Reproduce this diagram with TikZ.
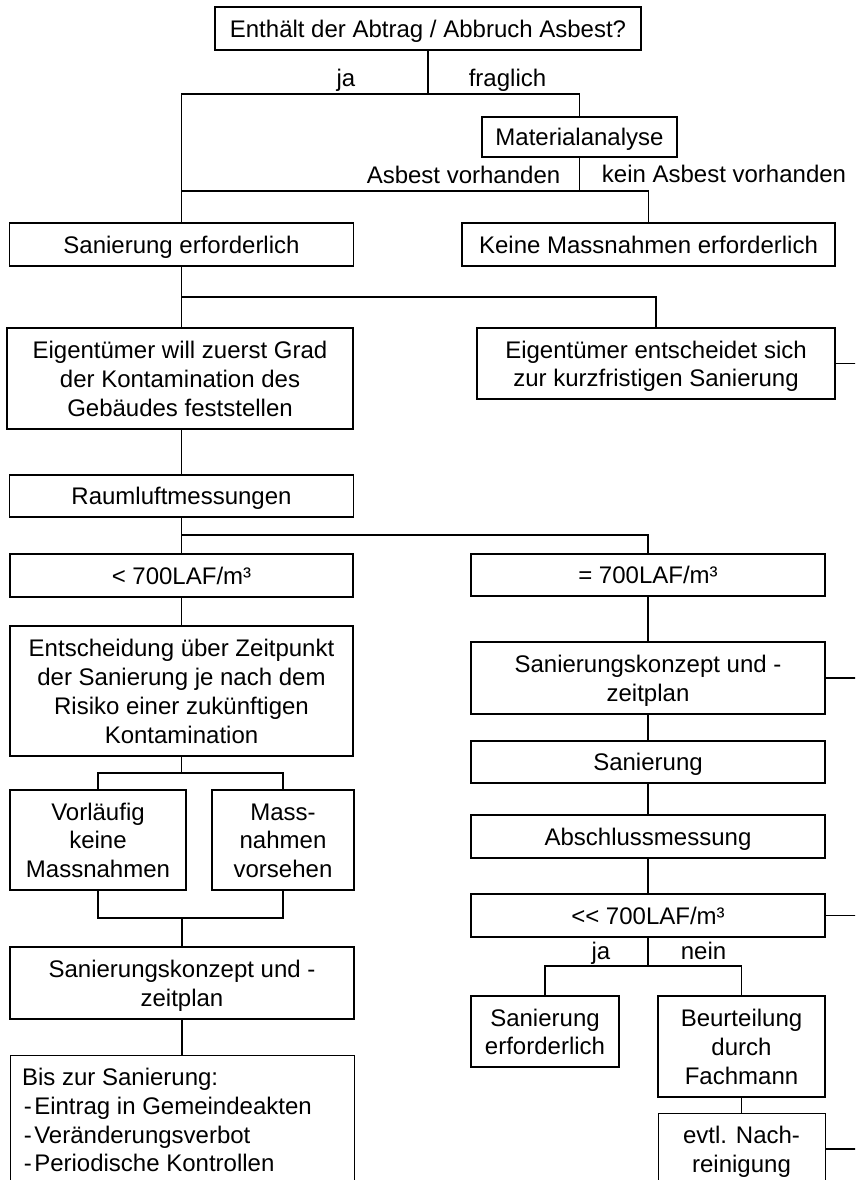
\documentclass[tikz,border=0pt]{standalone}
\usepackage{fontspec}
\setmainfont{Liberation Sans}
% line strut: every text line gets the same height and depth
\newcommand\ls{\rule[-5.4pt]{0pt}{28.7pt}}
\begin{document}
\begin{tikzpicture}[x=1pt,y=-1pt,line width=1.2pt,
  every node/.style={font=\fontsize{24}{28.7}\selectfont, inner sep=0pt},
  box/.style={draw, rectangle, align=center},
  lbl/.style={anchor=base}]
\useasboundingbox (0,0) rectangle (855,1180);
\clip (0,0) rectangle (855,1180);
\fill[white] (0,0) rectangle (855,1180);
\coordinate (edge) at (862,0);

% ---------- upper part ----------
\node[box, minimum width=426pt, minimum height=43pt] (q) at (428,28.5) {\ls Enthält der Abtrag / Abbruch Asbest?};
\node[box, minimum width=195pt, minimum height=40pt] (mat) at (579.5,137) {\ls Materialanalyse};
\node[box, minimum width=344pt, minimum height=43pt] (san1) at (181.5,244.5) {\ls Sanierung erforderlich};
\node[box, minimum width=373pt, minimum height=43pt] (keine) at (648.5,244.5) {\ls Keine Massnahmen erforderlich};
\node[box, minimum width=346pt, minimum height=101pt] (eig1) at (180,378.5) {\ls Eigentümer will zuerst Grad\\\ls der Kontamination des\\\ls Gebäudes feststellen};
\node[box, minimum width=358pt, minimum height=71pt] (eig2) at (656,363.5) {\ls Eigentümer entscheidet sich\\\ls zur kurzfristigen Sanierung};
\node[box, minimum width=344pt, minimum height=42pt] (raum) at (181.5,496) {\ls Raumluftmessungen};

\node[lbl] (lja) at (346,87) {ja};
\node[lbl] (lfrag) at (507.5,87) {fraglich};
\node[lbl] (lav) at (463.5,183) {Asbest vorhanden};
\node[lbl] (lkav) at (724,182) {kein Asbest vorhanden};

% ---------- left column ----------
\node[box, minimum width=343pt, minimum height=43pt] (lt) at (181.5,575.5) {\ls < 700LAF/m³};
\node[box, minimum width=343pt, minimum height=130pt] (ent) at (181.5,691) {\ls Entscheidung über Zeitpunkt\\\ls der Sanierung je nach dem\\\ls Risiko einer zukünftigen\\\ls Kontamination};
\node[box, minimum width=176pt, minimum height=100pt] (vorl) at (98,840) {\ls Vorläufig\\\ls keine\\\ls Massnahmen};
\node[box, minimum width=142pt, minimum height=100pt] (mass) at (283,840) {\ls Mass-\\\ls nahmen\\\ls vorsehen};
\node[box, minimum width=344pt, minimum height=72pt] (konL) at (182,983) {\ls Sanierungskonzept und -\\\ls zeitplan};
\node[draw, rectangle, anchor=north west, minimum width=344pt, minimum height=200pt] (bisbox) at (10,1055) {};
\node[anchor=north west, align=left] (bistext) at (21.5,1061.7) {\ls Bis zur Sanierung:\\\ls\hspace{1.7pt}-\hspace{2.5pt}Eintrag in Gemeindeakten\\\ls\hspace{1.7pt}-\hspace{2.5pt}Veränderungsverbot\\\ls\hspace{1.7pt}-\hspace{2.5pt}Periodische Kontrollen};

% ---------- right column ----------
\node[box, minimum width=354pt, minimum height=42pt] (eq) at (648,575) {\ls = 700LAF/m³};
\node[box, minimum width=354pt, minimum height=72pt] (konR) at (648,678) {\ls Sanierungskonzept und -\\\ls zeitplan};
\node[box, minimum width=354pt, minimum height=42pt] (sanR) at (648,762) {\ls Sanierung};
\node[box, minimum width=354pt, minimum height=43pt] (absch) at (648,836.5) {\ls Abschlussmessung};
\node[box, minimum width=354pt, minimum height=43pt] (ll) at (648,915.5) {\ls <\kern0pt< 700LAF/m³};
\node[box, minimum width=148pt, minimum height=71pt] (san2) at (545,1031.5) {\ls Sanierung\\\ls erforderlich};
\node[box, minimum width=167pt, minimum height=101pt] (beur) at (741.5,1046.5) {\ls Beurteilung\\\ls durch\\\ls Fachmann};
\node[draw, rectangle, anchor=north west, minimum width=167pt, minimum height=150pt] (evtlbox) at (658,1113) {};
\node[anchor=north, align=center] (evtltext) at (741.5,1119.7) {\ls evtl. Nach-\\\ls reinigung};

\node[lbl] (lja2) at (601,959) {ja};
\node[lbl] (lnein) at (703.5,959) {nein};

% ---------- connectors ----------
\coordinate (r1) at (428,94);
\draw (q.south) -- (r1);
\draw (san1.north) |- (r1) -| (mat.north);
\coordinate (r2) at (579.5,191);
\draw (mat.south) -- (r2);
\draw (r2) -| (keine.north);
\draw (r2) -- (san1.north |- r2);

\coordinate (r3) at (181.5,297);
\draw (san1.south) -- (san1.south |- eig1.north);
\draw (r3) -| (eig2.north);
\draw (raum.north |- eig1.south) -- (raum.north);

\coordinate (r4) at (181.5,535);
\draw (raum.south) -- (lt.north);
\draw (r4) -| (eq.north);
\draw (lt.south) -- (ent.north);

\coordinate (r6) at (181.5,773);
\draw (ent.south) -- (r6);
\draw (vorl.north) |- (r6) -| (mass.north);
\coordinate (r7) at (182,918);
\draw (vorl.south) |- (r7) -| (mass.south);
\draw (r7) -- (konL.north);
\draw (konL.south) -- (konL.south |- bisbox.north);

\draw (eq.south) -- (konR.north);
\draw (konR.south) -- (sanR.north);
\draw (sanR.south) -- (absch.north);
\draw (absch.south) -- (ll.north);
\coordinate (r5) at (648,966);
\draw (ll.south) -- (r5);
\draw (san2.north) |- (r5) -| (beur.north);
\draw (beur.south) -- (beur.south |- evtlbox.north);

% lines running off to the right
\draw (eig2.east) -- (eig2.east -| edge);
\draw (konR.east) -- (konR.east -| edge);
\draw (ll.east) -- (ll.east -| edge);
\coordinate (e4) at ([yshift=-36pt]evtlbox.north east);
\draw (e4) -- (e4 -| edge);
\end{tikzpicture}
\end{document}
